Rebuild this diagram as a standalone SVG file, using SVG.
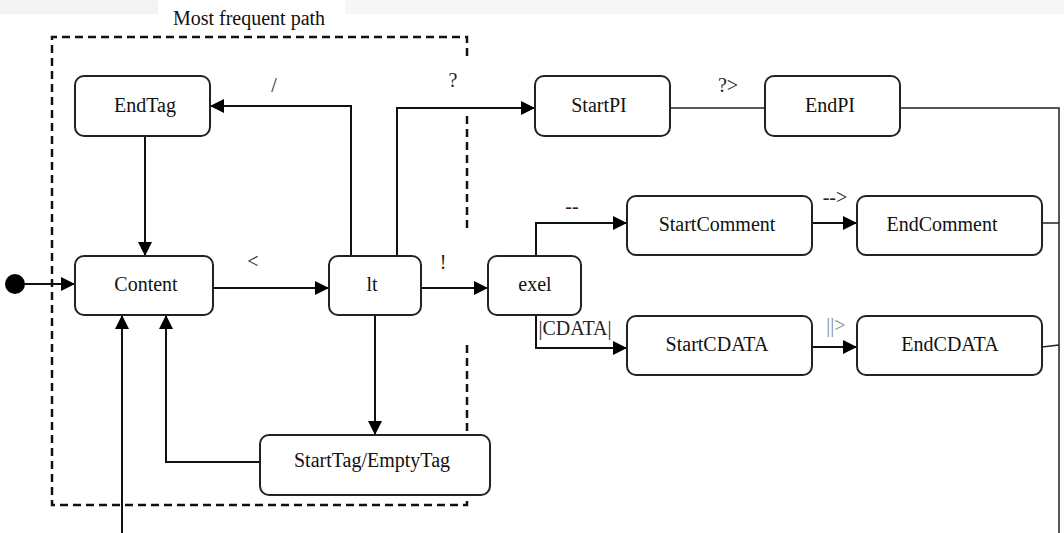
<svg xmlns="http://www.w3.org/2000/svg" width="1064" height="533" viewBox="0 0 1064 533">
<style>
.node rect{fill:#fff;stroke:#222;stroke-width:2}
text{font-family:"Liberation Serif","Times New Roman",serif;font-size:20px;fill:#111}
.nt{text-anchor:middle}
.lbl{text-anchor:middle;fill:#222}
.c{fill:none;stroke:#111;stroke-width:2}
.thin{fill:none;stroke:#222;stroke-width:1.5}
.frame{fill:none;stroke:#111;stroke-width:2.5;stroke-dasharray:8 5}
</style>
<defs>
<marker id="ah" markerUnits="userSpaceOnUse" markerWidth="14" markerHeight="14" refX="14" refY="7" orient="auto">
<path d="M0,0 L14,7 L0,14 z" fill="#000"/>
</marker>
</defs>
<rect x="0" y="0" width="1064" height="533" fill="#fff"/>
<rect x="0" y="0" width="158" height="14" fill="#f4f4f4"/>
<rect x="345" y="0" width="719" height="14" fill="#f6f6f6"/>

<g id="frame">
<path class="frame" d="M467,56 V37 H52 V505 H467 V340"/>
<path class="frame" d="M467,116 V233"/>
<text x="249" y="25" class="nt">Most frequent path</text>
</g>

<g id="connectors">
<circle cx="15" cy="284" r="10" fill="#000"/>
<path class="c" d="M25,284 H75" marker-end="url(#ah)"/>
<path class="c" d="M145,136 V256" marker-end="url(#ah)"/>
<path class="c" d="M213,288 H329" marker-end="url(#ah)"/>
<path class="c" d="M351,256 V106 H210" marker-end="url(#ah)"/>
<path class="c" d="M397,256 V108 H535" marker-end="url(#ah)"/>
<path class="c" d="M421,288 H488" marker-end="url(#ah)"/>
<path class="c" d="M375,315 V435" marker-end="url(#ah)"/>
<path class="c" d="M260,462 H166 V315" marker-end="url(#ah)"/>
<path class="c" d="M122,533 V315" marker-end="url(#ah)"/>
<path class="thin" d="M670,108 H765"/>
<path class="thin" d="M900,108 H1059 V533"/>
<path class="c" d="M536,256 V223 H627" marker-end="url(#ah)"/>
<path class="c" d="M536,315 V348 H627" marker-end="url(#ah)"/>
<path class="c" d="M812,223 H857" marker-end="url(#ah)"/>
<path class="c" d="M812,347 H857" marker-end="url(#ah)"/>
<path class="thin" d="M1042,223 H1059"/>
<path class="thin" d="M1042,347 L1059,345"/>
<text x="274" y="92" class="lbl">/</text>
<text x="453" y="87" class="lbl">?</text>
<text x="253" y="268" class="lbl">&lt;</text>
<text x="443" y="269" class="lbl">!</text>
<text x="728" y="92" class="lbl">?&gt;</text>
<text x="572" y="213" class="lbl">--</text>
<text x="835" y="204" class="lbl">--&gt;</text>
<text x="836" y="332" class="lbl" style="fill:#888">||&gt;</text>
<text x="575" y="335" class="lbl">|CDATA|</text>
</g>

<g id="EndTag" class="node"><rect x="75" y="76" width="135" height="60" rx="9"/><text x="145" y="112" class="nt">EndTag</text></g>
<g id="Content" class="node"><rect x="75" y="256" width="138" height="59" rx="9"/><text x="146" y="291" class="nt">Content</text></g>
<g id="lt" class="node"><rect x="329" y="256" width="92" height="59" rx="9"/><text x="372" y="291" class="nt">lt</text></g>
<g id="StartTag" class="node"><rect x="260" y="435" width="230" height="60" rx="9"/><text x="372" y="467" class="nt">StartTag/EmptyTag</text></g>
<g id="exel" class="node"><rect x="488" y="256" width="93" height="59" rx="9"/><text x="535" y="291" class="nt">exel</text></g>
<g id="StartPI" class="node"><rect x="535" y="76" width="135" height="60" rx="9"/><text x="599" y="112" class="nt">StartPI</text></g>
<g id="EndPI" class="node"><rect x="765" y="76" width="135" height="60" rx="9"/><text x="830" y="112" class="nt">EndPI</text></g>
<g id="StartComment" class="node"><rect x="627" y="196" width="185" height="59" rx="9"/><text x="717" y="231" class="nt">StartComment</text></g>
<g id="EndComment" class="node"><rect x="857" y="196" width="185" height="59" rx="9"/><text x="942" y="231" class="nt">EndComment</text></g>
<g id="StartCDATA" class="node"><rect x="627" y="316" width="185" height="59" rx="9"/><text x="717" y="351" class="nt">StartCDATA</text></g>
<g id="EndCDATA" class="node"><rect x="857" y="316" width="185" height="59" rx="9"/><text x="950" y="351" class="nt">EndCDATA</text></g>
</svg>
